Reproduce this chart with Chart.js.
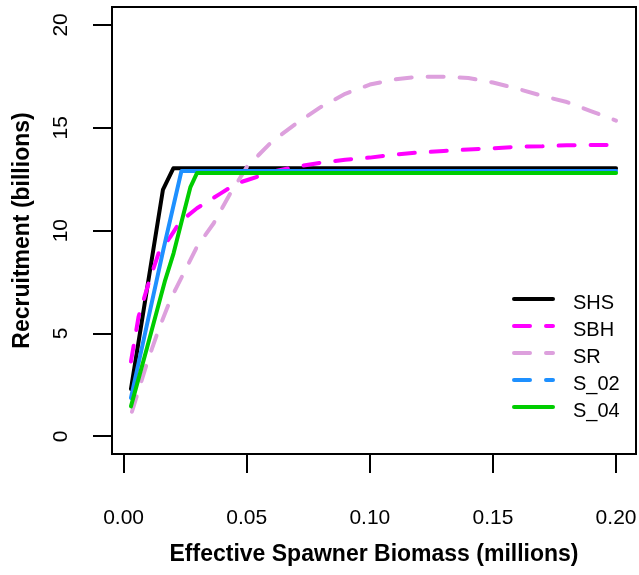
<!DOCTYPE html>
<html>
<head>
<meta charset="utf-8">
<script src="https://cdn.jsdelivr.net/npm/chart.js@4.4.1/dist/chart.umd.min.js"></script>
<style>
  html, body { margin: 0; padding: 0; background: #fff; }
  #wrap { width: 639px; height: 575px; }
</style>
</head>
<body>
<div id="wrap"><canvas id="srChart"></canvas></div>
<script>
// spawner biomass (millions) -> recruitment (billions)
const shsX = [0.003, 0.016, 0.0202, 0.2];
const shsY = [2.3, 12.0, 13.03, 13.03];

const sbhX = [0.003, 0.0061, 0.0102, 0.0142, 0.019, 0.023, 0.0298, 0.0393, 0.046, 0.05, 0.06, 0.07, 0.08, 0.09, 0.10, 0.11, 0.12, 0.13, 0.14, 0.15, 0.16, 0.17, 0.18, 0.19, 0.20];
const sbhY = [3.64, 5.83, 7.46, 8.9, 9.7, 10.44, 11.09, 11.8, 12.3, 12.45, 12.85, 13.1, 13.3, 13.45, 13.55, 13.7, 13.8, 13.87, 13.95, 14.0, 14.08, 14.1, 14.15, 14.16, 14.16];

const srX = [0.0034, 0.0095, 0.0142, 0.019, 0.0244, 0.0298, 0.0366, 0.0433, 0.0501, 0.06, 0.07, 0.08, 0.09, 0.10, 0.11, 0.12, 0.13, 0.14, 0.15, 0.16, 0.17, 0.18, 0.19, 0.20];
const srY = [1.2, 3.56, 5.18, 6.64, 7.93, 9.22, 10.36, 11.8, 13.1, 14.3, 15.2, 16.0, 16.65, 17.1, 17.35, 17.48, 17.48, 17.42, 17.2, 16.9, 16.55, 16.25, 15.8, 15.35];

const s02X = [0.003, 0.0162, 0.0235, 0.2];
const s02Y = [1.87, 9.1, 12.9, 12.9];

const s04X = [0.003, 0.0095, 0.0169, 0.0203, 0.0237, 0.0271, 0.0298, 0.2];
const s04Y = [1.46, 4.3, 7.6, 8.9, 10.5, 12.1, 12.8, 12.8];

const xTicks = [0.00, 0.05, 0.10, 0.15, 0.20];
const yTicks = [0, 5, 10, 15, 20];

const pts = (xs, ys) => xs.map((x, i) => ({ x: x, y: ys[i] }));

const dashed = [16, 16];
const tickFont = { family: "'Liberation Sans', Arial, sans-serif", size: 21 };
const titleFont = { family: "'Liberation Sans', Arial, sans-serif", size: 23, weight: "bold" };

function line(label, data, color, dash, legendDash, order) {
  return {
    label: label,
    data: data,
    borderColor: color,
    backgroundColor: color,
    borderWidth: 4,
    borderDash: dash,
    borderCapStyle: "round",
    borderJoinStyle: "round",
    pointRadius: 0,
    tension: 0,
    fill: false,
    order: order,
    legendDash: legendDash,
  };
}

// box round the plot area, like R's box()
const frame = {
  id: "frame",
  afterDraw(chart) {
    const { ctx, chartArea: a } = chart;
    ctx.save();
    ctx.strokeStyle = "#000";
    ctx.lineWidth = 2;
    ctx.strokeRect(a.left, a.top, a.right - a.left, a.bottom - a.top);
    ctx.restore();
  },
};

// R-style legend, no box, bottom right inside the plot
const rLegend = {
  id: "rLegend",
  afterDraw(chart) {
    const { ctx, chartArea: a } = chart;
    ctx.save();
    ctx.font = "20px 'Liberation Sans', Arial, sans-serif";
    ctx.textBaseline = "alphabetic";
    chart.data.datasets.forEach((ds, i) => {
      const y = a.top + 292 + i * 27;
      ctx.strokeStyle = ds.borderColor;
      ctx.lineWidth = 4;
      ctx.lineCap = "round";
      ctx.setLineDash(ds.legendDash);
      ctx.beginPath();
      ctx.moveTo(a.right - 122, y);
      ctx.lineTo(a.right - 83, y);
      ctx.stroke();
      ctx.setLineDash([]);
      ctx.fillStyle = "#000";
      ctx.fillText(ds.label, a.right - 63, y + 10);
    });
    ctx.restore();
  },
};

new Chart(document.getElementById("srChart"), {
  type: "line",
  data: {
    datasets: [
      line("SHS", pts(shsX, shsY), "#000000", [], [], 5),
      line("SBH", pts(sbhX, sbhY), "#FF00FF", dashed, dashed, 4),
      line("SR", pts(srX, srY), "#DDA0DD", dashed, dashed, 3),
      line("S_02", pts(s02X, s02Y), "#1E90FF", [], dashed, 2),
      line("S_04", pts(s04X, s04Y), "#00CD00", [], [], 1),
    ],
  },
  options: {
    responsive: true,
    maintainAspectRatio: false,
    devicePixelRatio: 1,
    animation: false,
    layout: { padding: { left: 0, top: 7, right: 3, bottom: 0 } },
    plugins: { legend: { display: false }, tooltip: { enabled: false } },
    scales: {
      x: {
        type: "linear",
        min: -0.0047,
        max: 0.2081,
        afterBuildTicks: (s) => { s.ticks = xTicks.map((v) => ({ value: v })); },
        afterFit: (s) => { s.height = 121; s.paddingLeft = 0; s.paddingRight = 0; },
        border: { display: false },
        grid: { drawOnChartArea: false, drawTicks: true, tickLength: 19, color: "#000", lineWidth: 2 },
        ticks: { color: "#000", font: tickFont, padding: 33, maxRotation: 0, callback: (v) => Number(v).toFixed(2) },
        title: { display: true, text: "Effective Spawner Biomass (millions)", color: "#000", font: titleFont, padding: { top: 0, bottom: 7 } },
      },
      y: {
        type: "linear",
        min: -0.855,
        max: 20.87,
        afterBuildTicks: (s) => { s.ticks = yTicks.map((v) => ({ value: v })); },
        afterFit: (s) => { s.width = 112; s.paddingTop = 0; s.paddingBottom = 0; },
        border: { display: false },
        grid: { drawOnChartArea: false, drawTicks: true, tickLength: 19, color: "#000", lineWidth: 2 },
        ticks: { color: "#000", font: tickFont, padding: 20, minRotation: 90, maxRotation: 90, crossAlign: "center", callback: (v) => String(v) },
        title: { display: true, text: "Recruitment (billions)", color: "#000", font: titleFont, padding: { top: 9, bottom: 0 } },
      },
    },
  },
  plugins: [frame, rLegend],
});
</script>
</body>
</html>
